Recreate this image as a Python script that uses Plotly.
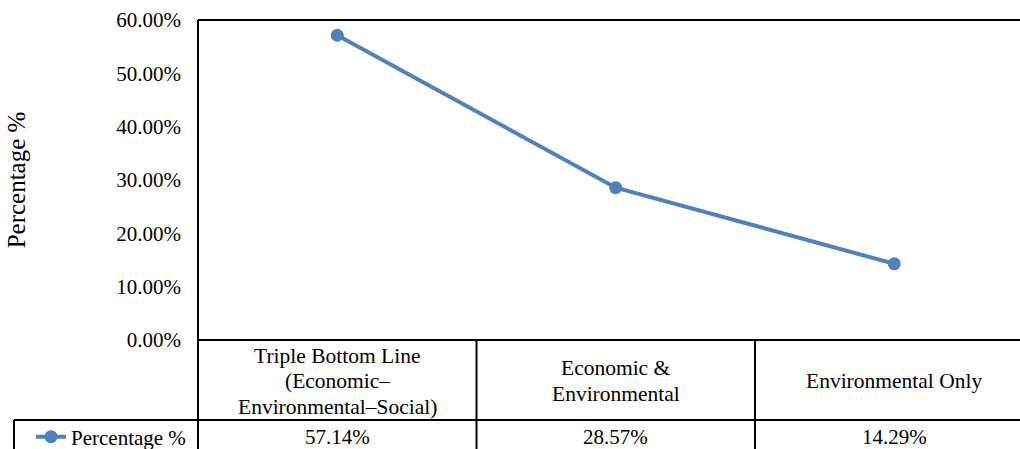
import plotly.graph_objects as go

categories = ["Triple Bottom Line<br>(Economic–<br>Environmental–Social)",
              "Economic &<br>Environmental",
              "Environmental Only"]
series_name = "Percentage %"
values = [57.14, 28.57, 14.29]
y_ticks = [0, 10, 20, 30, 40, 50, 60]
y_tick_labels = [f"{t:.2f}%" for t in y_ticks]

FONT = "Liberation Serif"
BLUE = "rgb(79,129,189)"
FS = 21
W, H = 1020, 449
L, R, T, B = 198, 0, 20, 109
plot_w = W - L - R
plot_h = H - T - B
col_w = 278.5
x_min = -0.5
x_max = x_min + plot_w / col_w

xs = list(range(len(categories)))

fig = go.Figure()
fig.add_trace(go.Scatter(
    x=xs, y=values, mode="lines+markers", name=series_name,
    line=dict(color=BLUE, width=4),
    marker=dict(color=BLUE, size=13),
    showlegend=True,
))

def px_x(px):
    return (px - L) / plot_w

def px_y(py):
    return (T + plot_h - py) / plot_h

def data_x(d):
    return (d - x_min) / (x_max - x_min)

line_style = dict(color="black", width=2)
shapes = []
shapes.append(dict(type="line", xref="paper", yref="paper", x0=0, x1=1, y0=1, y1=1, line=line_style))
shapes.append(dict(type="line", xref="paper", yref="paper", x0=0, x1=0, y0=1, y1=px_y(H + 5), line=line_style))
shapes.append(dict(type="line", xref="paper", yref="paper", x0=0, x1=1, y0=0, y1=0, line=line_style))
row_sep = px_y(420)
leg_left = px_x(14)
shapes.append(dict(type="line", xref="paper", yref="paper", x0=leg_left, x1=1, y0=row_sep, y1=row_sep, line=line_style))
shapes.append(dict(type="line", xref="paper", yref="paper", x0=leg_left, x1=leg_left, y0=row_sep, y1=px_y(H + 5), line=line_style))
for i in range(len(categories) - 1):
    xp = data_x(i + 0.5)
    shapes.append(dict(type="line", xref="paper", yref="paper", x0=xp, x1=xp, y0=0, y1=px_y(H + 5), line=line_style))

annotations = []
LINE_SP = 25.5
CAT_CENTER = 381
for i, (c, v) in enumerate(zip(categories, values)):
    lines = c.split("<br>")
    n = len(lines)
    for k, ln in enumerate(lines):
        yc = CAT_CENTER + (k - (n - 1) / 2) * LINE_SP
        annotations.append(dict(x=i, xref="x", y=px_y(yc), yref="paper", text=ln, showarrow=False,
                                xanchor="center", yanchor="middle", align="center",
                                font=dict(family=FONT, size=21.5, color="black")))
    annotations.append(dict(x=i, xref="x", y=px_y(437), yref="paper", text=f"{v:.2f}%", showarrow=False,
                            xanchor="center", yanchor="middle",
                            font=dict(family=FONT, size=FS, color="black")))

fig.update_layout(
    width=W, height=H,
    margin=dict(l=L, r=R, t=T, b=B, autoexpand=False),
    paper_bgcolor="white", plot_bgcolor="white",
    font=dict(family=FONT, size=FS, color="black"),
    showlegend=True,
    legend=dict(x=px_x(31), y=px_y(437), xanchor="left", yanchor="middle",
                bgcolor="rgba(0,0,0,0)", font=dict(family=FONT, size=FS, color="black"),
                itemwidth=30, borderwidth=0),
    xaxis=dict(range=[x_min, x_max], showgrid=False, zeroline=False, showticklabels=False,
               showline=False, ticks=""),
    yaxis=dict(range=[0, 60], tickvals=y_ticks, ticktext=y_tick_labels,
               showgrid=False, zeroline=False, showline=False, ticks="",
               ticklabelstandoff=16,
               tickfont=dict(family=FONT, size=FS, color="black"),
               title=dict(text="Percentage %", standoff=83,
                          font=dict(family=FONT, size=25, color="black"))),
    shapes=shapes,
    annotations=annotations,
)

fig.write_html("out.html")
